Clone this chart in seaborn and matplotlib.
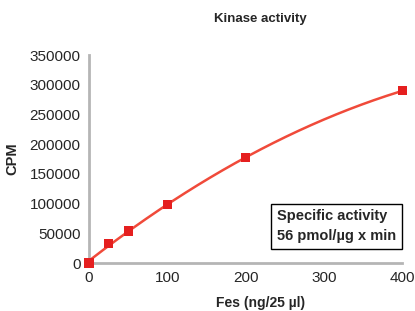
import numpy as np
import pandas as pd
import matplotlib
matplotlib.use("Agg")
import matplotlib.pyplot as plt
import seaborn as sns

fes = [0, 25, 50, 100, 200, 400]
cpm = [0, 33500, 54000, 98000, 177000, 290000]
title = "Kinase activity"
xlabel = "Fes (ng/25 µl)"
ylabel = "CPM"
box_text = "Specific activity\n56 pmol/µg x min"

sns.set_style("white")
plt.rcParams['font.family'] = ['Liberation Sans', 'DejaVu Sans']

df = pd.DataFrame({"fes": fes, "cpm": cpm})
coef = np.polyfit(fes, cpm, 2)
xf = np.linspace(0, 400, 200)
fit = pd.DataFrame({"fes": xf, "cpm": np.polyval(coef, xf)})

fig = plt.figure(figsize=(4.15, 3.11), dpi=100)
ax = fig.add_axes([0.2145, 0.154, 0.755, 0.669])
sns.lineplot(data=fit, x="fes", y="cpm", ax=ax, color="#f04a3a", lw=1.8)
sns.scatterplot(data=df, x="fes", y="cpm", ax=ax, marker="s", color="#e51f1f",
                s=44, edgecolor="none", zorder=3)
ax.set_xlim(0, 400)
ax.set_ylim(0, 350000)
ax.set_xticks([0, 100, 200, 300, 400])
ax.set_yticks(range(0, 350001, 50000))
ax.set_xlabel("")
ax.set_ylabel("")
for s in ["top", "right"]:
    ax.spines[s].set_visible(False)
for s in ["left", "bottom"]:
    ax.spines[s].set_color("#b5b5b5")
    ax.spines[s].set_linewidth(2)
ax.tick_params(axis="both", direction="out", length=4, width=1.5, color="#b5b5b5",
               labelsize=11, pad=2)
for c in ax.collections + ax.lines:
    c.set_clip_on(False)

fig.text(0.628, 0.94, title, ha="center", va="center", fontsize=9.5, fontweight="bold")
fig.text(0.628, 0.027, xlabel, ha="center", va="center", fontsize=10, fontweight="bold")
fig.text(0.03, 0.49, ylabel, ha="center", va="center", fontsize=10.5, fontweight="bold", rotation=90)
fig.text(0.667, 0.273, box_text, ha="left", va="center", fontsize=10.5, fontweight="bold",
         linespacing=1.5,
         bbox=dict(boxstyle="square,pad=0.4", facecolor="white", edgecolor="black", lw=1))

fig.savefig("out.png", dpi=100)
